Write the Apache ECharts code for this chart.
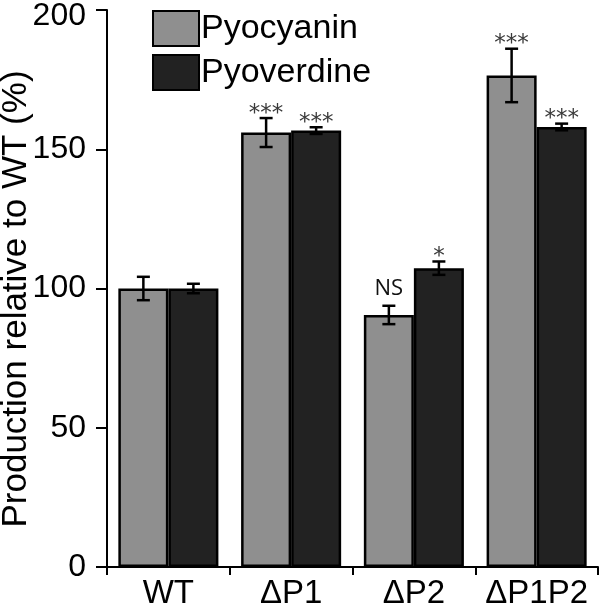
<!DOCTYPE html>
<html>
<head>
<meta charset="utf-8">
<script src="https://cdn.jsdelivr.net/npm/echarts@6/dist/echarts.min.js"></script>
<style>html,body{margin:0;padding:0;background:#fff}#c{width:600px;height:607px}</style>
</head>
<body>
<div id="c"></div>
<script>
var categories = ['WT', '\u0394P1', '\u0394P2', '\u0394P1P2'];
var pyocyanin = [100, 156, 90.5, 176.5];
var pyocyaninErr = [4.2, 5.2, 3.3, 9.6];
var pyoverdine = [100, 156.7, 107.3, 158];
var pyoverdineErr = [1.7, 1.2, 2.4, 1.2];
var pyocyaninSig = ['', '***', 'NS', '***'];
var pyoverdineSig = ['', '***', '*', '***'];
var yTicks = [0, 50, 100, 150, 200];

var FONT = 'Liberation Sans, Arial, sans-serif';
var catGap = 0.185;

function errSeries(name, values, errs, sigs, side) {
  var data = values.map(function (v, i) { return [i, v, errs[i], sigs[i]]; });
  return {
    type: 'custom',
    name: name + ' error',
    data: data,
    z: 5,
    silent: true,
    renderItem: function (params, api) {
      var idx = api.value(0), v = api.value(1), e = api.value(2);
      var sig = data[params.dataIndex][3];
      var band = api.size([1, 0])[0];
      var bw = band * (1 - catGap) / 2;
      var c = api.coord([idx, v]);
      var x = c[0] + side * bw / 2;
      var top = api.coord([idx, v + e])[1];
      var bot = api.coord([idx, v - e])[1];
      var cap = 6.5;
      var st = { stroke: '#000', lineWidth: 2.5 };
      var children = [
        { type: 'line', shape: { x1: x, y1: top, x2: x, y2: bot }, style: st },
        { type: 'line', shape: { x1: x - cap, y1: top, x2: x + cap, y2: top }, style: st },
        { type: 'line', shape: { x1: x - cap, y1: bot, x2: x + cap, y2: bot }, style: st }
      ];
      if (sig) {
        var isNS = sig === 'NS';
        children.push({
          type: 'text',
          style: {
            text: sig,
            x: x,
            y: isNS ? top - 6 : top + 7,
            align: 'center',
            verticalAlign: 'bottom',
            fill: isNS ? '#111' : '#3a3a3a',
            font: isNS ? '22px "Open Sans", sans-serif' : '23px "DejaVu Sans", sans-serif'
          }
        });
      }
      return { type: 'group', children: children };
    }
  };
}

var chart = echarts.init(document.getElementById('c'), null, { renderer: 'canvas' });
chart.setOption({
  animation: false,
  backgroundColor: '#fff',
  grid: { left: 107, right: 2, top: 10, bottom: 40, containLabel: false, outerBoundsMode: 'none' },
  legend: {
    left: 147, top: 5, orient: 'vertical', itemGap: 7,
    itemWidth: 46, itemHeight: 35, icon: 'rect',
    textStyle: { fontFamily: FONT, fontSize: 34, color: '#000', padding: [0, 0, 0, -3] },
    data: ['Pyocyanin', 'Pyoverdine']
  },
  xAxis: {
    type: 'category',
    data: categories,
    axisLine: { lineStyle: { color: '#000', width: 2 } },
    axisTick: { show: true, length: 8, inside: false, lineStyle: { color: '#000', width: 2 } },
    axisLabel: { color: '#000', fontFamily: FONT, fontSize: 33, margin: 10, interval: 0 }
  },
  yAxis: {
    type: 'value', min: 0, max: 200, interval: 50,
    axisLine: { show: true, lineStyle: { color: '#000', width: 2 } },
    axisTick: { show: true, length: 11, lineStyle: { color: '#000', width: 2 } },
    axisLabel: {
      color: '#000', fontFamily: FONT, fontSize: 32, margin: 21, lineHeight: 12,
      verticalAlignMaxLabel: 'top',
      formatter: function (v) { return yTicks.indexOf(v) >= 0 ? String(v) : ''; }
    },
    splitLine: { show: false }
  },
  graphic: [{
    type: 'text', x: 16, y: 299, rotation: Math.PI / 2,
    style: {
      text: 'Production relative to WT (%)', align: 'center', verticalAlign: 'middle',
      font: '35px Liberation Sans, Arial, sans-serif', fill: '#000'
    }
  }],
  series: [
    {
      name: 'Pyocyanin', type: 'bar', data: pyocyanin, barGap: '0%', barCategoryGap: (catGap * 100) + '%',
      itemStyle: { color: '#8f8f8f', borderColor: '#000', borderWidth: 2.5 }
    },
    {
      name: 'Pyoverdine', type: 'bar', data: pyoverdine, barGap: '0%', barCategoryGap: (catGap * 100) + '%',
      itemStyle: { color: '#222222', borderColor: '#000', borderWidth: 2.5 }
    },
    errSeries('Pyocyanin', pyocyanin, pyocyaninErr, pyocyaninSig, -1),
    errSeries('Pyoverdine', pyoverdine, pyoverdineErr, pyoverdineSig, 1)
  ]
});
</script>
</body>
</html>
